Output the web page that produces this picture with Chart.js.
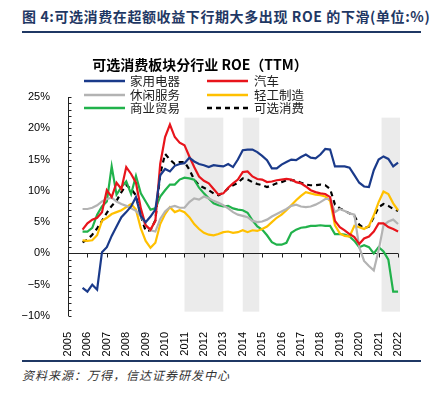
<!DOCTYPE html>
<html>
<head>
<meta charset="utf-8">
<script src="https://cdn.jsdelivr.net/npm/chart.js@4"></script>
<style>
  body { margin: 0; background: #fff; }
  #page { position: relative; width: 431px; height: 393px; overflow: hidden; background: #fff; }
  #head { position: absolute; left: 22px; top: 6px; line-height: 20px; font: bold 14px "Noto Sans CJK SC"; color: #1f3864; letter-spacing: 0.6px; white-space: nowrap; }
  .rule { position: absolute; left: 22px; width: 399px; height: 2px; background: #1f3864; }
  #foot { position: absolute; left: 22px; top: 366px; line-height: 16px; font: italic 12px "Noto Sans CJK SC"; color: #333; letter-spacing: 1px; white-space: nowrap; }
  #wrap { position: absolute; left: 0; top: 40px; width: 431px; height: 318px; }
</style>
</head>
<body>
<div id="page">
  <div id="head">图 4:可选消费在超额收益下行期大多出现 ROE 的下滑(单位:%)</div>
  <div class="rule" style="top:31px"></div>
  <div id="wrap"><canvas id="roe-chart" width="431" height="318"></canvas></div>
  <div class="rule" style="top:360px"></div>
  <div id="foot">资料来源：万得，信达证券研发中心</div>
</div>
<script>
const quarters = [
  '2005Q3','2005Q4',
  '2006Q1','2006Q2','2006Q3','2006Q4',
  '2007Q1','2007Q2','2007Q3','2007Q4',
  '2008Q1','2008Q2','2008Q3','2008Q4',
  '2009Q1','2009Q2','2009Q3','2009Q4',
  '2010Q1','2010Q2','2010Q3','2010Q4',
  '2011Q1','2011Q2','2011Q3','2011Q4',
  '2012Q1','2012Q2','2012Q3','2012Q4',
  '2013Q1','2013Q2','2013Q3','2013Q4',
  '2014Q1','2014Q2','2014Q3','2014Q4',
  '2015Q1','2015Q2','2015Q3','2015Q4',
  '2016Q1','2016Q2','2016Q3','2016Q4',
  '2017Q1','2017Q2','2017Q3','2017Q4',
  '2018Q1','2018Q2','2018Q3','2018Q4',
  '2019Q1','2019Q2','2019Q3','2019Q4',
  '2020Q1','2020Q2','2020Q3','2020Q4',
  '2021Q1','2021Q2','2021Q3','2021Q4'
];

// 家用电器
const appliances = [
  -5.5, -6.1,
  -5.0, -5.8, 0.2, 1.0,
  2.8, 4.3, 5.8, 6.6,
  7.5, 9.0, 6.0, 5.0,
  5.9, 7.0, 12.5, 13.5,
  13.1, 14.0, 14.3, 14.4,
  15.3, 14.7, 14.3, 14.1,
  13.8, 14.1, 14.0, 13.9,
  14.3, 13.8, 15.0, 16.5,
  16.6, 16.6, 16.2, 15.6,
  14.9, 13.6, 13.6, 14.2,
  14.6, 15.0, 14.9, 15.4,
  15.8, 15.3, 15.2, 15.8,
  16.7, 16.6, 13.9, 13.9,
  13.9, 13.7, 12.5, 11.3,
  10.7, 10.6, 13.3, 15.0,
  15.5, 15.1, 13.9, 14.5
];
// 汽车
const autos = [
  3.8, 4.8,
  5.4, 5.7, 6.6, 10.1,
  9.0, 11.3, 10.3, 13.8,
  12.7, 11.3, 7.2, 4.5,
  3.8, 5.2, 14.3, 18.6,
  20.6, 18.6, 17.7, 17.3,
  15.5, 13.8, 12.3, 11.6,
  11.2, 10.3, 9.4, 9.6,
  10.5, 11.2, 11.8, 13.0,
  13.1, 12.3, 11.9, 11.8,
  11.4, 11.5, 11.7, 11.8,
  11.9, 11.8, 11.4, 11.2,
  10.7, 10.1, 9.8, 9.6,
  9.5, 9.0, 5.2, 4.2,
  3.7, 3.1, 2.6, 1.5,
  2.4, 2.7, 3.5, 4.8,
  4.8, 4.2, 3.9, 3.5
];
// 休闲服务
const leisure = [
  7.1, 7.1,
  7.3, 7.7, 8.3, 8.7,
  8.9, 8.3, 7.9, 7.6,
  7.2, 6.8, 6.0, 4.5,
  3.7, 3.5, 5.5, 6.7,
  7.4, 7.6, 7.3, 7.3,
  8.2, 8.8, 8.6, 9.1,
  8.8, 8.4, 8.1, 7.7,
  7.2, 6.6, 6.2, 6.0,
  5.8, 5.2, 5.0, 5.1,
  5.4, 5.9, 6.3, 6.7,
  7.1, 7.6, 7.8, 7.5,
  7.4, 7.5, 7.8, 8.2,
  8.7, 8.7, 6.6, 7.1,
  6.8, 6.4, 6.2, 1.0,
  -1.2, -2.0, -2.7, 0.5,
  4.5, 5.1, 5.4, 4.7
];
// 轻工制造
const lightIndustry = [
  2.1, 2.0,
  2.1, 2.9, 5.2, 5.7,
  6.3, 6.6, 6.9, 7.4,
  7.9, 7.0, 4.0, 2.0,
  0.9, 1.7, 4.7, 6.3,
  7.4, 6.6, 6.9, 6.6,
  5.8, 4.7, 3.9, 3.3,
  3.0, 2.9, 3.1, 3.4,
  3.5, 3.3, 3.4, 3.7,
  3.4, 3.7, 3.6, 3.9,
  4.3, 5.0, 5.7, 6.2,
  6.9, 7.7, 8.5, 9.2,
  9.8, 9.6, 9.4, 9.3,
  9.1, 8.4, 4.5, 3.2,
  2.8, 2.7, 4.4, 4.2,
  3.9, 4.4, 6.1, 8.2,
  9.9, 9.5, 8.0, 6.9
];
// 商业贸易
const commerce = [
  3.5, 3.5,
  4.1, 6.2, 7.5, 8.3,
  13.9, 9.4, 10.6, 11.5,
  9.5, 12.4, 9.6, 8.3,
  7.0, 7.2, 9.1, 10.1,
  11.0, 11.0, 11.8, 12.1,
  12.0, 11.8, 10.5, 9.6,
  8.8, 8.0, 7.7, 7.5,
  7.6, 7.2, 7.0, 6.9,
  6.5, 5.3, 4.3, 3.8,
  2.9, 1.8, 1.4, 1.4,
  1.7, 3.3, 3.8, 4.1,
  4.2, 4.4, 4.4, 4.5,
  4.4, 4.4, 3.1, 3.1,
  3.0, 2.7, 2.0, 1.0,
  1.3, 1.0, 0.0, 1.0,
  0.3, -1.0, -6.1, -6.1
];
// 可选消费
const discretionary = [
  1.8, 2.2,
  3.0, 4.0, 5.2, 6.5,
  7.6, 8.4, 9.8, 10.9,
  10.3, 9.3, 6.0, 3.6,
  3.7, 5.3, 12.7, 15.9,
  15.0, 14.3, 14.6, 14.6,
  13.4, 11.8, 10.9, 10.5,
  10.1, 9.6, 9.3, 9.7,
  10.4, 10.9, 11.3, 12.0,
  11.8, 11.4, 11.1, 10.9,
  10.6, 10.9, 11.2, 11.4,
  11.7, 11.7, 11.6, 11.3,
  11.0, 10.9, 10.9, 11.0,
  10.9, 10.3, 7.8, 7.2,
  6.8, 6.4, 6.0, 4.6,
  4.0, 4.3, 5.8, 7.4,
  7.9, 7.6, 7.1, 6.8
];

const yearLabels = ['2005','2006','2007','2008','2009','2010','2011','2012','2013',
  '2014','2015','2016','2017','2018','2019','2020','2021','2022'];
const pctTicks = [-10, -5, 0, 5, 10, 15, 20, 25];

// shaded periods (excess-return downturns)
const shadedStart = [2011.0, 2014.0, 2021.15];
const shadedEnd = [2013.0, 2014.85, 2022.1];
const shadeTop = 21.7;
const shadeBottom = -9.3;

// quarter-end position on the year axis
function quarterPos(q) {
  return Number(q.slice(0, 4)) + Number(q.slice(5)) / 4;
}
function toPoints(values) {
  return values.map((v, i) => ({ x: quarterPos(quarters[i]), y: v }));
}

const series = [
  { label: '家用电器', data: appliances, color: '#1a3a8a', dash: [] },
  { label: '汽车', data: autos, color: '#e8141b', dash: [] },
  { label: '休闲服务', data: leisure, color: '#b3b3b3', dash: [] },
  { label: '轻工制造', data: lightIndustry, color: '#ffc000', dash: [] },
  { label: '商业贸易', data: commerce, color: '#21b24b', dash: [] },
  { label: '可选消费', data: discretionary, color: '#000000', dash: [5, 4] }
];

const backdropPlugin = {
  id: 'backdrop',
  beforeDatasetsDraw(chart) {
    const { ctx, scales: { x, y } } = chart;
    ctx.save();
    ctx.fillStyle = '#ebebeb';
    shadedStart.forEach((s, i) => {
      const x0 = x.getPixelForValue(s);
      const x1 = x.getPixelForValue(shadedEnd[i]);
      const y0 = y.getPixelForValue(shadeTop);
      const y1 = y.getPixelForValue(shadeBottom);
      ctx.fillRect(x0, y0, x1 - x0, y1 - y0);
    });

    ctx.strokeStyle = '#222';
    ctx.lineWidth = 1;
    ctx.beginPath();
    const ax = Math.round(x.getPixelForValue(x.min)) + 0.5;
    ctx.moveTo(ax, y.getPixelForValue(y.max));
    ctx.lineTo(ax, y.getPixelForValue(y.min));
    for (let v = y.min; v <= y.max; v++) {
      const py = Math.round(y.getPixelForValue(v)) + 0.5;
      ctx.moveTo(ax, py);
      ctx.lineTo(ax + 3, py);
    }
    const zy = Math.round(y.getPixelForValue(0)) + 0.5;
    const lastYear = Number(yearLabels[yearLabels.length - 1]);
    ctx.moveTo(ax, zy);
    ctx.lineTo(x.getPixelForValue(lastYear), zy);
    yearLabels.forEach(yr => {
      const px = Math.round(x.getPixelForValue(Number(yr))) + 0.5;
      ctx.moveTo(px, zy);
      ctx.lineTo(px, zy + 4);
    });
    ctx.stroke();
    ctx.restore();
  }
};

const legendPlugin = {
  id: 'gridLegend',
  afterDraw(chart) {
    const ctx = chart.ctx;
    const lineX = [84, 207];
    const textX = [130, 254];
    const rowY = [41, 55, 68];
    ctx.save();
    ctx.font = '12.5px "Noto Sans CJK SC"';
    ctx.textBaseline = 'middle';
    chart.data.datasets.forEach((ds, i) => {
      const col = i % 2, row = Math.floor(i / 2);
      const yy = rowY[row];
      ctx.strokeStyle = ds.borderColor;
      ctx.lineWidth = 2.5;
      ctx.setLineDash(ds.borderDash || []);
      ctx.beginPath();
      ctx.moveTo(lineX[col], yy);
      ctx.lineTo(lineX[col] + 41, yy);
      ctx.stroke();
      ctx.setLineDash([]);
      ctx.fillStyle = '#222';
      ctx.fillText(ds.label, textX[col], yy);
    });
    ctx.restore();
  }
};

function initChart() {
  const ctx = document.getElementById('roe-chart').getContext('2d');
  new Chart(ctx, {
    type: 'line',
    data: {
      datasets: series.map(s => ({
        label: s.label,
        data: toPoints(s.data),
        borderColor: s.color,
        backgroundColor: s.color,
        borderDash: s.dash,
        borderWidth: 2.2,
        pointRadius: 0,
        tension: 0,
        fill: false
      }))
    },
    options: {
      responsive: false,
      animation: false,
      events: [],
      layout: { padding: { left: 0, right: 31, top: 0, bottom: 0 } },
      plugins: {
        legend: { display: false },
        tooltip: { enabled: false },
        title: {
          display: true,
          text: '可选消费板块分行业 ROE（TTM）',
          color: '#000',
          font: { family: '"Noto Sans CJK SC"', size: 14, weight: 'bold' },
          padding: { top: 16, bottom: 24.2 }
        }
      },
      scales: {
        x: {
          type: 'linear',
          min: Number(yearLabels[0]),
          max: 2022.1,
          grid: { display: false },
          border: { display: false },
          afterBuildTicks: s => { s.ticks = yearLabels.map(v => ({ value: Number(v) })); },
          afterFit: s => { s.height = 42; },
          ticks: {
            minRotation: 90,
            maxRotation: 90,
            padding: 8,
            color: '#000',
            font: { family: '"Liberation Sans"', size: 11 },
            callback: v => String(v)
          }
        },
        y: {
          min: pctTicks[0],
          max: pctTicks[pctTicks.length - 1],
          grid: { display: false },
          border: { display: false },
          afterBuildTicks: s => { s.ticks = pctTicks.map(v => ({ value: v })); },
          afterFit: s => { s.width = 68; },
          ticks: {
            padding: 10,
            color: '#000',
            font: { family: '"Liberation Sans"', size: 11 },
            callback: v => (v < 0 ? '\u2212' + Math.abs(v) : v) + '%'
          }
        }
      }
    },
    plugins: [backdropPlugin, legendPlugin]
  });
}

document.addEventListener('DOMContentLoaded', initChart);
</script>
</body>
</html>
